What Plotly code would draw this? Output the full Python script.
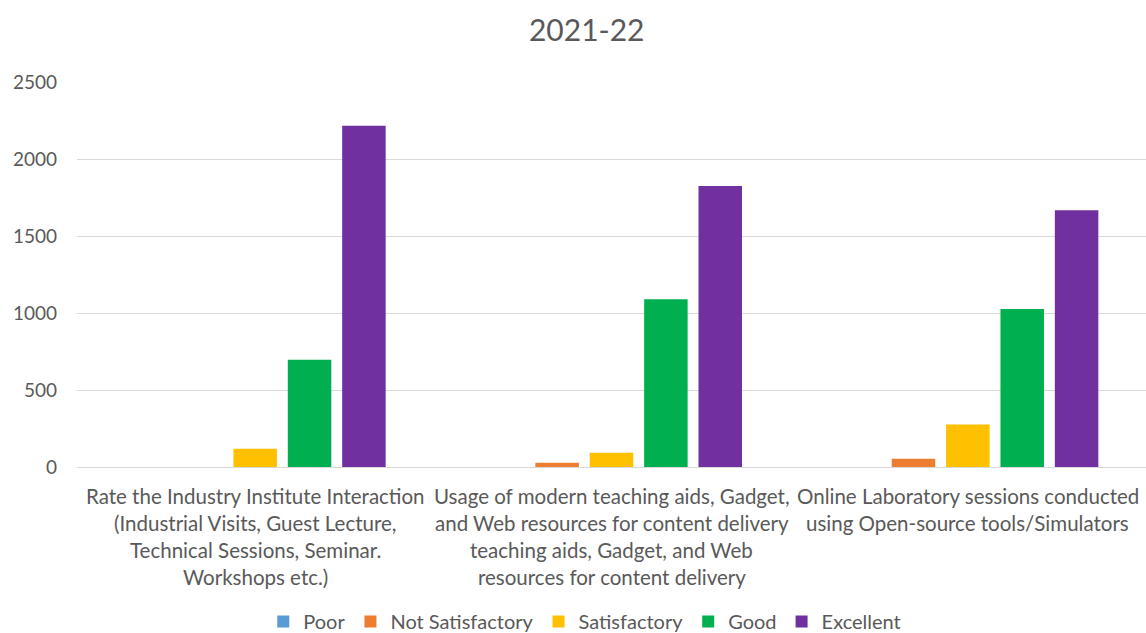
import plotly.graph_objects as go

categories = [
    "Rate the Industry Institute Interaction|(Industrial Visits, Guest Lecture,|Technical Sessions, Seminar.|Workshops etc.)",
    "Usage of modern teaching aids, Gadget,|and Web resources for content delivery|teaching aids, Gadget, and Web|resources for content delivery",
    "Online Laboratory sessions conducted|using Open-source tools/Simulators",
]
cat_keys = ["C1", "C2", "C3"]

series_names = ["Poor", "Not Satisfactory", "Satisfactory", "Good", "Excellent"]
poor = [0, 0, 0]
not_satisfactory = [0, 28, 54]
satisfactory = [119, 93, 276]
good = [696, 1090, 1026]
excellent = [2216, 1824, 1667]
colors = ["#5B9BD5", "#ED7D31", "#FFC000", "#00B050", "#7030A0"]

y_ticks = [0, 500, 1000, 1500, 2000, 2500]

FONT = "Lato, 'Liberation Sans', sans-serif"
TXT = "#595959"

fig = go.Figure()
for name, vals, col in zip(series_names, [poor, not_satisfactory, satisfactory, good, excellent], colors):
    fig.add_trace(go.Bar(x=cat_keys, y=vals, name=name, marker=dict(color=col, line=dict(width=0))))

annotations = []
for key, label in zip(cat_keys, categories):
    for i, line in enumerate(label.split("|")):
        annotations.append(dict(
            x=key, xref="x", y=0, yref="paper", yanchor="middle",
            yshift=-(29 + i * 27), text=line, showarrow=False,
            font=dict(family=FONT, size=20.5, color=TXT),
        ))

W, H = 1146, 641
T, PH = 82, 391
fig.update_layout(
    width=W, height=H,
    margin=dict(l=77, r=0, t=T, b=H - T - PH),
    paper_bgcolor="white", plot_bgcolor="white",
    title=dict(text="2021-22", x=0.512, xanchor="center", y=1 - 30 / H, yanchor="middle",
               font=dict(family=FONT, size=30, color=TXT)),
    barmode="group", bargap=0.237, bargroupgap=0.2,
    font=dict(family=FONT, size=19, color=TXT),
    legend=dict(orientation="h", x=0.475, xanchor="center", y=-(630 - T - PH) / PH, yanchor="middle",
                font=dict(family=FONT, size=20, color=TXT), itemwidth=30, traceorder="normal"),
    annotations=annotations,
    showlegend=True,
)
fig.update_xaxes(showticklabels=False, showline=True, linecolor="#d9d9d9", linewidth=1, ticks="")
fig.update_yaxes(range=[0, 2500], tickvals=y_ticks, showgrid=True, gridcolor="#d9d9d9", gridwidth=1,
                 zeroline=False, showline=False, ticks="", ticklen=0, ticklabelstandoff=19,
                 tickfont=dict(family=FONT, size=19, color=TXT))

post = (
    "document.documentElement.style.margin='0';"
    "document.body.style.margin='0';"
    "var d=document.getElementsByClassName('plotly-graph-div')[0];"
    "d.style.position='absolute';d.style.top='0px';d.style.left='0px';"
)
fig.write_html("out.html", config={"displayModeBar": False}, post_script=post)
